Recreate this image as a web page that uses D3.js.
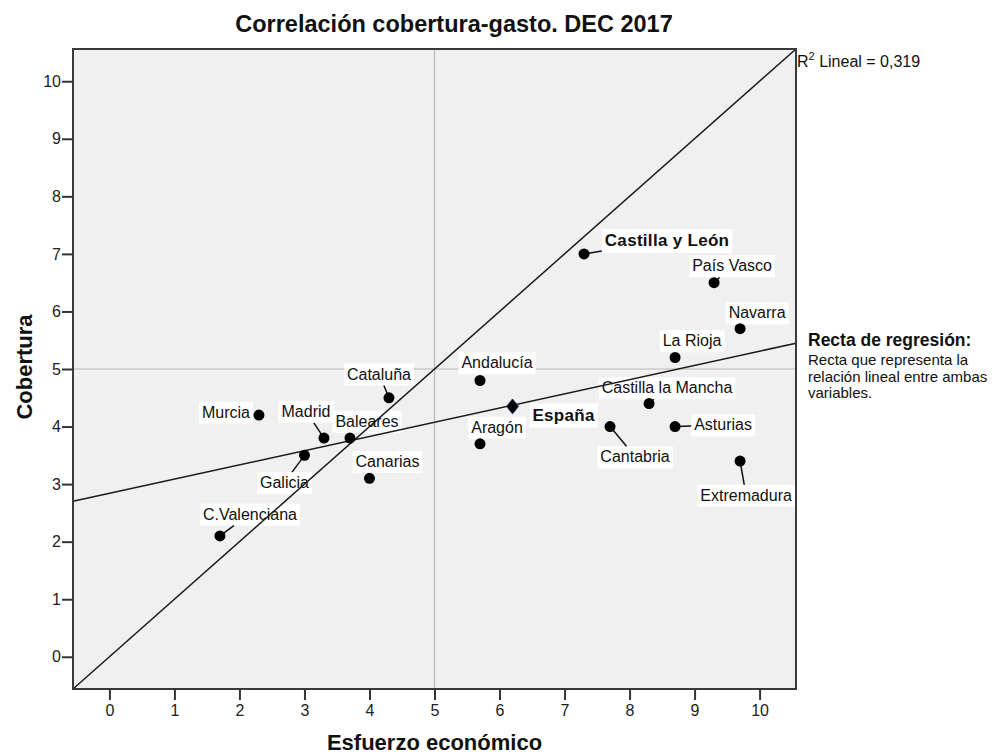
<!DOCTYPE html>
<html>
<head>
<meta charset="utf-8">
<script src="https://cdn.jsdelivr.net/npm/d3@7"></script>
<style>
  html, body { margin: 0; padding: 0; background: #ffffff; }
  svg { display: block; }
  text { font-family: "Liberation Sans", Arial, sans-serif; }
</style>
</head>
<body>
<svg id="chart" width="999" height="756"></svg>
<script>
// ---------------- DATA ----------------
const regions   = ["Murcia","Madrid","Baleares","Cataluña","Galicia","Canarias","C.Valenciana","Andalucía","Aragón","La Rioja","Castilla la Mancha","Cantabria","Asturias","Extremadura","Navarra","País Vasco","Castilla y León"];
const esfuerzo  = [2.3, 3.3, 3.7, 4.3, 3.0, 4.0, 1.7, 5.7, 5.7, 8.7, 8.3, 7.7, 8.7, 9.7, 9.7, 9.3, 7.3];
const cobertura = [4.2, 3.8, 3.8, 4.5, 3.5, 3.1, 2.1, 4.8, 3.7, 5.2, 4.4, 4.0, 4.0, 3.4, 5.7, 6.5, 7.0];
const boldRegions = ["Castilla y León"];

const spainName = "España";
const spainEsfuerzo = 6.2;
const spainCobertura = 4.35;

const xTicks = [0,1,2,3,4,5,6,7,8,9,10];
const yTicks = [0,1,2,3,4,5,6,7,8,9,10];
const axisDomain = [-0.56, 10.56];
const refX = 5, refY = 5;
const regIntercept = 2.84, regSlope = 0.247;

const titleText = "Correlación cobertura-gasto. DEC 2017";
const xTitle = "Esfuerzo económico";
const yTitle = "Cobertura";
const r2Label = ["R", "2", " Lineal = 0,319"];
const noteTitle = "Recta de regresión:";
const noteLines = ["Recta que representa la", "relación lineal entre ambas", "variables."];

// --------------- LABEL LAYOUT (pixel offsets from the point) ---------------
const labelLayout = {
  "Murcia":             [-33, -3, false],
  "Madrid":             [-18, -27, true],
  "Baleares":           [17, -17, false],
  "Cataluña":           [-10, -24, true],
  "Galicia":            [-20, 27, true],
  "Canarias":           [18, -17, false],
  "C.Valenciana":       [30, -22, true],
  "Andalucía":          [17, -18, false],
  "Aragón":             [17, -17, false],
  "La Rioja":           [17, -17, false],
  "Castilla la Mancha": [18, -16, true],
  "Cantabria":          [25, 30, true],
  "Asturias":           [48, -2, true],
  "Extremadura":        [6, 34, true],
  "Navarra":            [17, -16, false],
  "País Vasco":         [18, -17, true],
  "Castilla y León":    [83, -14, true],
  "España":             [51, 8, false]
};

// ---------------- CHART ----------------
const svg = d3.select("#chart");
const plot = {left: 73, right: 796, top: 49, bottom: 689};

const x = d3.scaleLinear().domain(axisDomain).range([plot.left, plot.right]);
const y = d3.scaleLinear().domain(axisDomain).range([plot.bottom, plot.top]);

// background
svg.append("rect")
  .attr("x", plot.left).attr("y", plot.top)
  .attr("width", plot.right - plot.left).attr("height", plot.bottom - plot.top)
  .attr("fill", "#f0f0f0");

// reference lines
svg.append("line")
  .attr("x1", x(refX)).attr("x2", x(refX))
  .attr("y1", plot.top).attr("y2", plot.bottom)
  .attr("stroke", "#b8b8b8").attr("stroke-width", 1.2);
svg.append("line")
  .attr("x1", plot.left).attr("x2", plot.right)
  .attr("y1", y(refY)).attr("y2", y(refY))
  .attr("stroke", "#b8b8b8").attr("stroke-width", 1.2);

// data points
const points = regions.map((name, i) => ({name, ex: esfuerzo[i], co: cobertura[i], bold: boldRegions.includes(name), spain: false}));
points.push({name: spainName, ex: spainEsfuerzo, co: spainCobertura, bold: true, spain: true});

// labels (boxes + text)
const labelG = svg.append("g");
const leaders = [];
points.forEach(p => {
  const px = x(p.ex), py = y(p.co);
  const lay = labelLayout[p.name] || [15, -15, false];
  const cx = px + lay[0], cy = py + lay[1];
  const g = labelG.append("g");
  const rect = g.append("rect").attr("fill", "#ffffff");
  const t = g.append("text")
    .attr("x", cx).attr("y", cy).attr("dy", "0.36em")
    .attr("text-anchor", "middle")
    .attr("font-size", p.bold ? 17 : 16)
    .attr("font-weight", p.bold ? "bold" : "normal")
    .attr("letter-spacing", p.bold ? 0.3 : 0)
    .attr("fill", "#111")
    .text(p.name);
  const bb = t.node().getBBox();
  const padX = 3, padY = 3;
  const box = {x: bb.x - padX, y: bb.y - padY + 1, w: bb.width + 2 * padX, h: bb.height + 2 * padY - 1};
  rect.attr("x", box.x).attr("y", box.y).attr("width", box.w).attr("height", box.h);
  if (lay[2]) {
    // point where the segment dot -> label centre enters the box
    const dx = cx - px, dy = cy - py;
    let tEnter = 0;
    if (dx !== 0) {
      const t1 = (box.x - px) / dx, t2 = (box.x + box.w - px) / dx;
      tEnter = Math.max(tEnter, Math.min(t1, t2));
    }
    if (dy !== 0) {
      const t1 = (box.y - py) / dy, t2 = (box.y + box.h - py) / dy;
      tEnter = Math.max(tEnter, Math.min(t1, t2));
    }
    leaders.push({x1: px, y1: py, x2: px + dx * tEnter, y2: py + dy * tEnter});
  }
});

// identity reference line (diagonal)
svg.append("line")
  .attr("x1", x(axisDomain[0])).attr("y1", y(axisDomain[0]))
  .attr("x2", x(axisDomain[1])).attr("y2", y(axisDomain[1]))
  .attr("stroke", "#1a1a1a").attr("stroke-width", 1.5);

// regression line
svg.append("line")
  .attr("x1", x(axisDomain[0])).attr("y1", y(regIntercept + regSlope * axisDomain[0]))
  .attr("x2", x(axisDomain[1])).attr("y2", y(regIntercept + regSlope * axisDomain[1]))
  .attr("stroke", "#1a1a1a").attr("stroke-width", 1.5);

// leaders
svg.append("g").selectAll("line").data(leaders).join("line")
  .attr("x1", d => d.x1).attr("y1", d => d.y1)
  .attr("x2", d => d.x2).attr("y2", d => d.y2)
  .attr("stroke", "#111").attr("stroke-width", 1.5);

// dots
svg.append("g").selectAll("circle").data(points.filter(p => !p.spain)).join("circle")
  .attr("cx", d => x(d.ex)).attr("cy", d => y(d.co))
  .attr("r", 5.5).attr("fill", "#000");

// España diamond
const sx = x(spainEsfuerzo), sy = y(spainCobertura);
svg.append("path")
  .attr("d", d3.line()([[sx, sy - 7.5], [sx + 6, sy], [sx, sy + 7.5], [sx - 6, sy]]) + "Z")
  .attr("fill", "#000").attr("stroke", "#1c2a6a").attr("stroke-width", 0.8);

// frame
svg.append("rect")
  .attr("x", plot.left).attr("y", plot.top)
  .attr("width", plot.right - plot.left).attr("height", plot.bottom - plot.top)
  .attr("fill", "none").attr("stroke", "#3a3a3a").attr("stroke-width", 2);

// axes
const xAxis = d3.axisBottom(x).tickValues(xTicks).tickSize(11).tickPadding(5).tickFormat(d3.format("d"));
const yAxis = d3.axisLeft(y).tickValues(yTicks).tickSize(11).tickPadding(1).tickFormat(d3.format("d"));

const gx = svg.append("g").attr("transform", `translate(0,${plot.bottom})`).call(xAxis);
const gy = svg.append("g").attr("transform", `translate(${plot.left},0)`).call(yAxis);
[gx, gy].forEach(g => {
  g.select(".domain").remove();
  g.selectAll(".tick line").attr("stroke", "#333").attr("stroke-width", 2);
  g.selectAll(".tick text").attr("font-size", 16).attr("fill", "#222")
    .attr("font-family", "'Liberation Sans', Arial, sans-serif");
});

// title
svg.append("text")
  .attr("x", 454).attr("y", 32)
  .attr("text-anchor", "middle")
  .attr("font-size", 23.5).attr("font-weight", "bold").attr("fill", "#111")
  .text(titleText);

// axis titles
svg.append("text")
  .attr("x", x(5)).attr("y", 750)
  .attr("text-anchor", "middle")
  .attr("font-size", 22).attr("font-weight", "bold").attr("fill", "#111")
  .text(xTitle);
svg.append("text")
  .attr("transform", `translate(32,${(plot.top + plot.bottom) / 2 - 2}) rotate(-90)`)
  .attr("text-anchor", "middle")
  .attr("font-size", 22).attr("font-weight", "bold").attr("fill", "#111")
  .text(yTitle);

// R² label
const r2 = svg.append("text").attr("x", 797).attr("y", 67).attr("font-size", 16).attr("fill", "#111");
r2.append("tspan").text(r2Label[0]);
r2.append("tspan").attr("font-size", 11).attr("dy", -7).text(r2Label[1]);
r2.append("tspan").attr("dy", 7).text(r2Label[2]);

// regression note
svg.append("text")
  .attr("x", 808).attr("y", 346)
  .attr("font-size", 17.5).attr("font-weight", "bold").attr("fill", "#111")
  .text(noteTitle);
svg.append("g").selectAll("text").data(noteLines).join("text")
  .attr("x", 808).attr("y", (d, i) => 365 + i * 16.6)
  .attr("font-size", 15).attr("fill", "#111")
  .text(d => d);
</script>
</body>
</html>
